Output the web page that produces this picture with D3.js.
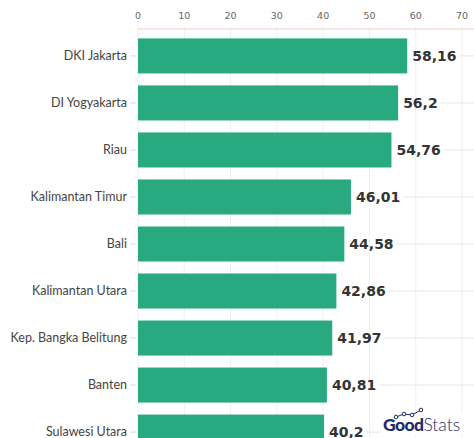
<!DOCTYPE html>
<meta charset="utf-8">
<html>
<body style="margin:0;background:#fff">
<div id="chart"></div>
<script src="https://d3js.org/d3.v7.min.js"></script>
<script>
// data
var provinces = ["DKI Jakarta", "DI Yogyakarta", "Riau", "Kalimantan Timur", "Bali",
  "Kalimantan Utara", "Kep. Bangka Belitung", "Banten", "Sulawesi Utara"];
var values = [58.16, 56.2, 54.76, 46.01, 44.58, 42.86, 41.97, 40.81, 40.2];
var labels = ["58,16", "56,2", "54,76", "46,01", "44,58", "42,86", "41,97", "40,81", "40,2"];
var xTicks = [0, 10, 20, 30, 40, 50, 60, 70];

var W = 474, H = 438;
var svg = d3.select("#chart").append("svg").attr("width", W).attr("height", H);

var x = d3.scaleLinear().domain([0, 70]).range([138, 462]);
var y = d3.scaleBand().domain(provinces).range([29, 459]).paddingInner(0.255).paddingOuter(0.2);

// vertical grid
svg.append("g").selectAll("line").data(xTicks).enter().append("line")
  .attr("x1", d => x(d)).attr("x2", d => x(d))
  .attr("y1", 26).attr("y2", H)
  .attr("stroke", "#efefef").attr("stroke-width", 1);

// top axis
svg.append("line").attr("x1", 138).attr("x2", W).attr("y1", 29).attr("y2", 29)
  .attr("stroke", "#f2cfcf").attr("stroke-width", 1);
svg.append("g").selectAll("text").data(xTicks).enter().append("text")
  .attr("x", d => x(d)).attr("y", 19)
  .attr("text-anchor", "middle")
  .style("font-family", "DejaVu Sans, sans-serif")
  .style("font-size", "9.5px")
  .style("fill", "#666")
  .text(d => d);

// bars
var rows = svg.append("g").selectAll("g").data(provinces).enter().append("g");

rows.append("rect")
  .attr("x", x(0))
  .attr("y", d => y(d))
  .attr("width", (d, i) => x(values[i]) - x(0))
  .attr("height", y.bandwidth())
  .attr("fill", "#29a97f");

// category ticks and labels
rows.append("line")
  .attr("x1", 130).attr("x2", 136)
  .attr("y1", d => y(d) + y.bandwidth() / 2).attr("y2", d => y(d) + y.bandwidth() / 2)
  .attr("stroke", "#ddd");
rows.append("text")
  .attr("x", 127)
  .attr("y", d => y(d) + y.bandwidth() / 2)
  .attr("dy", "0.35em")
  .attr("text-anchor", "end")
  .style("font-family", "Lato, sans-serif")
  .style("font-size", "12.5px")
  .style("fill", "#444")
  .text(d => d);

// value labels with trailing guide line
rows.each(function (d, i) {
  var g = d3.select(this);
  var cy = y(d) + y.bandwidth() / 2;
  var t = g.append("text")
    .attr("x", x(values[i]) + 5)
    .attr("y", cy)
    .attr("dy", "0.36em")
    .style("font-family", "DejaVu Sans, sans-serif")
    .style("font-weight", "bold")
    .style("font-size", "14px")
    .style("fill", "#333")
    .text(labels[i]);
  var end = x(values[i]) + 5 + t.node().getComputedTextLength() + 3;
  g.append("line")
    .attr("x1", end).attr("x2", W)
    .attr("y1", cy).attr("y2", cy)
    .attr("stroke", "#e6e6e6");
});

// GoodStats logo
var logo = svg.append("g").attr("transform", "translate(383,431)");
logo.append("rect").attr("x", -2).attr("y", -18).attr("width", 95).attr("height", 22).attr("fill", "#fff");
var lt = logo.append("text")
  .style("font-family", "Lato, sans-serif")
  .style("font-size", "17.5px")
  .style("fill", "#1f2a6e");
lt.append("tspan").style("font-weight", "900").style("letter-spacing", "-0.6px").text("Good");
lt.append("tspan").style("font-weight", "300").text("Stats");
var icon = [[13, -14], [21, -17], [29, -16], [38, -21]];
logo.append("path")
  .attr("d", d3.line()(icon))
  .attr("fill", "none").attr("stroke", "#1f2a6e").attr("stroke-width", 1);
logo.append("g").selectAll("circle").data(icon).enter().append("circle")
  .attr("cx", d => d[0]).attr("cy", d => d[1]).attr("r", 1.8)
  .attr("fill", "#fff").attr("stroke", "#1f2a6e").attr("stroke-width", 1);
</script>
</body>
</html>
